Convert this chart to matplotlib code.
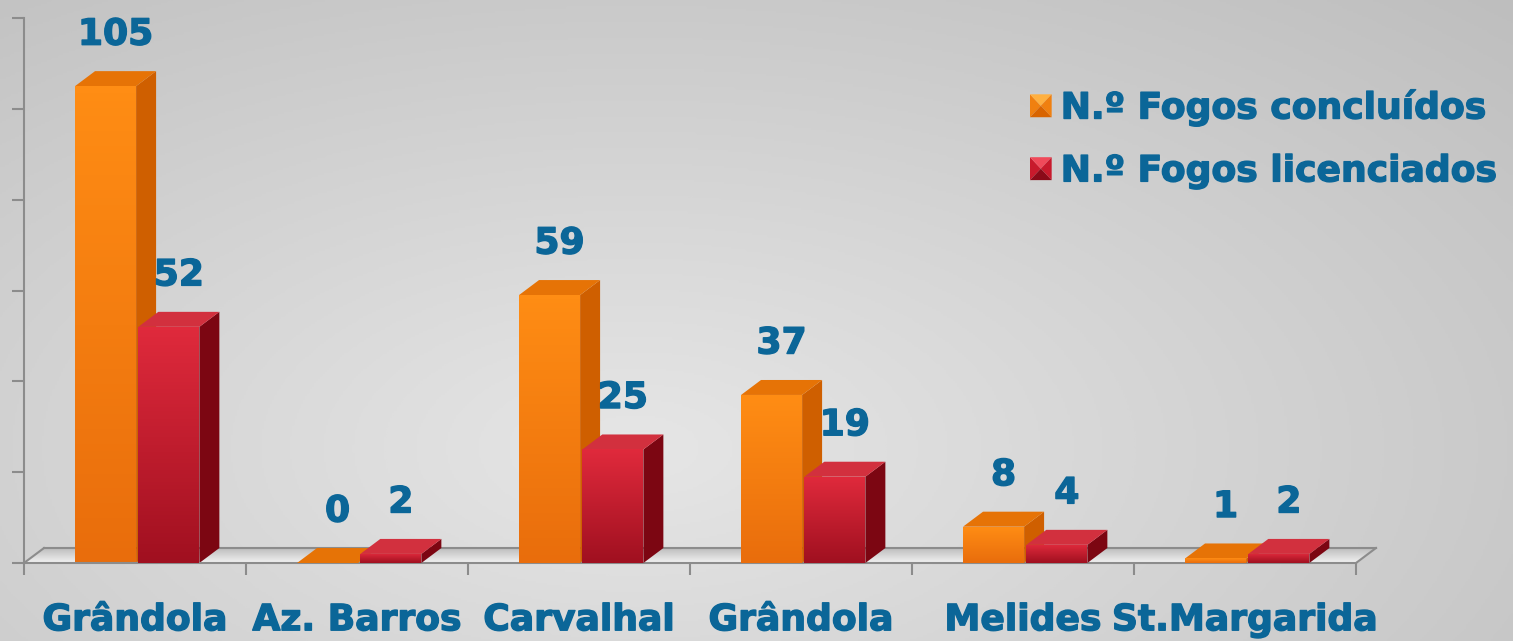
import numpy as np
import matplotlib.pyplot as plt
from matplotlib.patches import Polygon, Patch
from matplotlib.colors import LinearSegmentedColormap
from matplotlib.legend_handler import HandlerBase
import matplotlib.patheffects as pe
import matplotlib.transforms as mtransforms

categories = ['Grândola', 'Az. Barros', 'Carvalhal', 'Grândola', 'Melides', 'St.Margarida']
concluidos = [105, 0, 59, 37, 8, 1]
licenciados = [52, 2, 25, 19, 4, 2]
series_names = ['N.º Fogos concluídos', 'N.º Fogos licenciados']

TEXT = '#0b6698'
AXIS = '#8c8c8c'
# (front top, front bottom, side, top face)
ORANGE = ('#ff8d14', '#e96d0c', '#cf5f00', '#e67306')
RED = ('#e02a3c', '#a01020', '#7c0612', '#d2303e')
# legend key shading (top, sides, bottom)
ORANGE_KEY = ('#ffb040', '#f08010', '#d86400')
RED_KEY = ('#f04a5a', '#c81a2c', '#8a0a18')
bold = [pe.withStroke(linewidth=1.0, foreground=TEXT)]

fig = plt.figure(figsize=(15.13, 6.41), dpi=100)

# radial grey background
bg = fig.add_axes([0, 0, 1, 1], zorder=-10)
yy, xx = np.mgrid[0:1:300j, 0:1:700j]
r = np.sqrt(((xx - 0.42) / 0.75) ** 2 + ((yy - 0.3) / 0.9) ** 2)
bgc = LinearSegmentedColormap.from_list('bg', ['#e6e6e6', '#bebebe'])
bg.imshow(r, cmap=bgc, origin='lower', extent=[0, 1, 0, 1], aspect='auto', vmin=0, vmax=1.1)
bg.axis('off')

ax = fig.add_axes([24 / 1513, 78 / 641, 1332 / 1513, 545 / 641])
ax.patch.set_alpha(0)

dx, dy = 0.09, 3.3  # depth offset in data units


def grad_poly(verts, c_top, c_bot, z):
    poly = Polygon(verts, closed=True, facecolor='none', edgecolor='none', zorder=z)
    poly.set_clip_on(False)
    ax.add_patch(poly)
    xs = [v[0] for v in verts]
    ys = [v[1] for v in verts]
    cmap = LinearSegmentedColormap.from_list('g', [c_bot, c_top])
    img = ax.imshow(np.linspace(0, 1, 64).reshape(-1, 1), cmap=cmap, origin='lower',
                    extent=[min(xs), max(xs), min(ys), max(ys)], aspect='auto', zorder=z)
    img.set_clip_path(poly)
    img.set_clip_box(fig.bbox)


def flat_poly(verts, color, z):
    p = Polygon(verts, closed=True, facecolor=color, edgecolor='none', zorder=z, clip_on=False)
    ax.add_patch(p)


# floor
n = len(categories)
grad_poly([(0, 0), (n, 0), (n + dx, dy), (dx, dy)], '#bdbdbd', '#f2f2f2', 1)
ax.plot([dx, n + dx], [dy, dy], color=AXIS, lw=1.5, zorder=1.5, clip_on=False)
ax.plot([0, dx], [0, dy], color=AXIS, lw=1.5, zorder=1.5, clip_on=False)
ax.plot([n, n + dx], [0, dy], color=AXIS, lw=1.5, zorder=1.5, clip_on=False)

w = 0.275
z = 2
for i in range(n):
    for off, vals, col in ((0.23, concluidos, ORANGE), (0.515, licenciados, RED)):
        v = vals[i]
        x0 = i + off
        x1 = x0 + w
        flat_poly([(x1, 0), (x1 + dx, dy), (x1 + dx, v + dy), (x1, v)], col[2], z)
        flat_poly([(x0, v), (x1, v), (x1 + dx, v + dy), (x0 + dx, v + dy)], col[3], z)
        if v > 0:
            grad_poly([(x0, 0), (x1, 0), (x1, v), (x0, v)], col[0], col[1], z + 0.1)
        ax.annotate(str(v), xy=(x0 + w / 2 + dx / 2, v + dy), xytext=(0, 14),
                    textcoords='offset points', ha='center', va='bottom',
                    fontsize=26, fontweight='bold', color=TEXT, zorder=10,
                    path_effects=bold)
        z += 0.5

ax.set_xlim(0, n)
ax.set_ylim(0, 120)

trans = mtransforms.blended_transform_factory(ax.transData, ax.transAxes)
for i, name in enumerate(categories):
    ax.text(i + 0.5, -0.105, name, transform=trans, ha='center', va='center',
            fontsize=26, fontweight='bold', color=TEXT, path_effects=bold)

ax.set_xticks(range(n + 1))
ax.set_yticks(range(0, 121, 20))
ax.tick_params(length=8.6, width=1.5, color=AXIS, labelleft=False, labelbottom=False)
for s in ('top', 'right'):
    ax.spines[s].set_visible(False)
for s in ('left', 'bottom'):
    ax.spines[s].set_color(AXIS)
    ax.spines[s].set_linewidth(1.5)


class PyramidHandler(HandlerBase):
    # square legend key shaded as four triangles
    def __init__(self, shades):
        super().__init__()
        self.shades = shades

    def create_artists(self, legend, orig_handle, xdescent, ydescent, width, height, fontsize, trans):
        top, side, bottom = self.shades
        x0, y0 = -xdescent, -ydescent
        x1, y1 = x0 + width, y0 + height
        cx, cy = (x0 + x1) / 2, (y0 + y1) / 2
        tris = [([(x0, y0), (x0, y1), (cx, cy)], side),
                ([(x0, y1), (x1, y1), (cx, cy)], top),
                ([(x1, y1), (x1, y0), (cx, cy)], side),
                ([(x1, y0), (x0, y0), (cx, cy)], bottom)]
        return [Polygon(v, closed=True, facecolor=c, edgecolor='none', transform=trans) for v, c in tris]


h1 = Patch(facecolor=ORANGE[0])
h2 = Patch(facecolor=RED[0])
fig.legend([h1, h2], series_names, loc='upper left', bbox_to_anchor=(1030 / 1513, 1 - 90 / 641),
           frameon=False, handlelength=0.6, handleheight=0.6, handletextpad=0.25,
           labelspacing=0.8, borderpad=0, borderaxespad=0,
           handler_map={h1: PyramidHandler(ORANGE_KEY), h2: PyramidHandler(RED_KEY)},
           prop={'size': 26, 'weight': 'bold'}, labelcolor=TEXT)
for t in fig.legends[0].get_texts():
    t.set_path_effects(bold)

fig.savefig('out.png', dpi=100)
